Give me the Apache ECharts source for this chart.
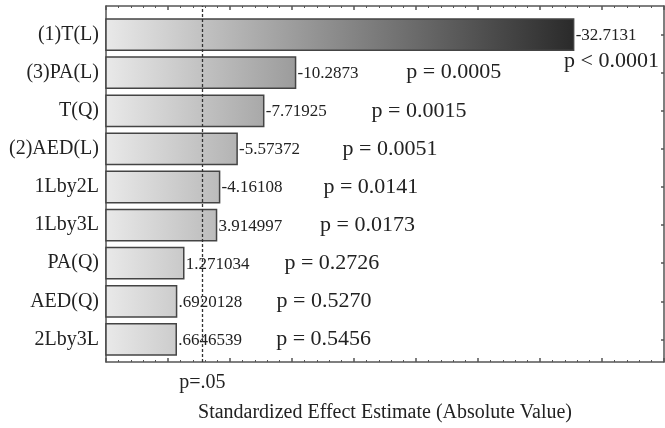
<!DOCTYPE html>
<html><head><meta charset="utf-8">
<script src="https://cdn.jsdelivr.net/npm/echarts@6/dist/echarts.min.js"></script>
<style>html,body{margin:0;padding:0;background:#fff}#c{width:665px;height:428px}</style>
</head><body><div id="c"></div>
<script>
// ---- data ----
const categories = ['(1)T(L)', '(3)PA(L)', 'T(Q)', '(2)AED(L)', '1Lby2L', '1Lby3L', 'PA(Q)', 'AED(Q)', '2Lby3L'];
const effects = [-32.7131, -10.2873, -7.71925, -5.57372, -4.16108, 3.914997, 1.271034, 0.6920128, 0.6646539];
const pLabels = ['p < 0.0001', 'p = 0.0005', 'p = 0.0015', 'p = 0.0051', 'p = 0.0141', 'p = 0.0173', 'p = 0.2726', 'p = 0.5270', 'p = 0.5456'];
const xMin = -5, xMax = 40, xInterval = 5;
const criticalT = 2.776;
const criticalLabel = 'p=.05';
const xTitle = 'Standardized Effect Estimate (Absolute Value)';

// ---- helpers ----
const SERIF = '"Liberation Serif", "Times New Roman", serif';
function fmtVal(v) { return String(v).replace(/^(-?)0\./, '$1.'); }
const mctx = document.createElement('canvas').getContext('2d');
function textWidth(t, font) { mctx.font = font; return mctx.measureText(t).width; }
const maxAbs = Math.max(...effects.map(Math.abs));
const axisColor = '#555';

const chart = echarts.init(document.getElementById('c'), null, {renderer: 'canvas'});
const valFont = '17px ' + SERIF;
const pFont = '22px ' + SERIF;

const frameLine = {show: true, onZero: false, lineStyle: {color: axisColor, width: 1.5}};

const option = {
  animation: false,
  backgroundColor: '#fff',
  grid: [
    {left: 106, right: 1, top: 6, bottom: 60, containLabel: false},
    {left: 106, right: 1, top: 15.5, bottom: 69.5, containLabel: false}
  ],
  xAxis: [
    {gridIndex: 0, type: 'value', position: 'bottom', min: xMin, max: xMax, interval: xInterval,
     axisLine: frameLine,
     axisTick: {show: true, inside: true, length: 4, lineStyle: {color: axisColor, width: 1.5}},
     minorTick: {show: true, splitNumber: 5, length: 2, lineStyle: {color: axisColor}},
     axisLabel: {show: false}, splitLine: {show: false},
     name: xTitle, nameLocation: 'middle', nameGap: 41,
     nameTextStyle: {fontFamily: SERIF, fontSize: 20, color: '#222'}},
    {gridIndex: 0, type: 'value', position: 'top', min: xMin, max: xMax, interval: xInterval,
     axisLine: frameLine,
     axisTick: {show: true, inside: true, length: 4, lineStyle: {color: axisColor, width: 1.5}},
     minorTick: {show: true, splitNumber: 5, length: 2, lineStyle: {color: axisColor}},
     axisLabel: {show: false}, splitLine: {show: false}},
    {gridIndex: 1, type: 'value', min: xMin, max: xMax, interval: xInterval, show: false}
  ],
  yAxis: [
    {gridIndex: 0, type: 'value', position: 'left', min: 0, max: 1,
     axisLine: frameLine,
     axisTick: {show: false}, axisLabel: {show: false}, splitLine: {show: false}},
    {gridIndex: 0, type: 'value', position: 'right', min: 0, max: 1,
     axisLine: frameLine,
     axisTick: {show: false}, axisLabel: {show: false}, splitLine: {show: false}},
    {gridIndex: 1, type: 'category', position: 'left', inverse: true, data: categories,
     axisLine: {show: false, onZero: false},
     axisTick: {show: true, inside: true, alignWithLabel: true, length: 3, lineStyle: {color: axisColor, width: 1.5}},
     axisLabel: {show: true, margin: 7, fontFamily: SERIF, fontSize: 20, color: '#222'},
     splitLine: {show: false}},
    {gridIndex: 1, type: 'category', position: 'right', inverse: true, data: categories,
     axisLine: {show: false, onZero: false},
     axisTick: {show: true, inside: true, alignWithLabel: true, length: 3, lineStyle: {color: axisColor, width: 1.5}},
     axisLabel: {show: false}, splitLine: {show: false}}
  ],
  series: [
    {
      type: 'custom',
      xAxisIndex: 2, yAxisIndex: 2,
      data: effects.map((e, i) => [Math.abs(e), i]),
      encode: {x: 0, y: 1},
      renderItem: function (params, api) {
        const i = params.dataIndex;
        const v = api.value(0);
        const c = api.value(1);
        const start = api.coord([xMin, c]);
        const end = api.coord([v, c]);
        const band = api.size([0, 1])[1];
        const h = band * 0.82;
        const cs = params.coordSys;
        const gEnd = api.coord([maxAbs, c])[0];
        const children = [];
        children.push({
          type: 'rect',
          shape: {x: start[0], y: end[1] - h / 2, width: end[0] - start[0], height: h},
          style: {
            fill: {type: 'linear', x: cs.x, y: 0, x2: gEnd, y2: 0, global: true,
                   colorStops: [{offset: 0, color: '#e9e9e9'}, {offset: 1, color: '#2a2a2a'}]},
            stroke: '#444', lineWidth: 1.5
          }
        });
        children.push({
          type: 'text',
          style: {text: fmtVal(effects[i]), x: end[0] + 2, y: end[1] + 1, font: valFont,
                  fill: '#222', align: 'left', verticalAlign: 'middle'}
        });
        const pw = textWidth(pLabels[i], pFont);
        let px = api.coord([v * 1.09 + 8, c])[0];
        const right = cs.x + cs.width;
        if (px + pw > right - 3) {
          children.push({
            type: 'text',
            style: {text: pLabels[i], x: right - 5, y: end[1] + 27, font: pFont,
                    fill: '#222', align: 'right', verticalAlign: 'middle'}
          });
        } else {
          children.push({
            type: 'text',
            style: {text: pLabels[i], x: px, y: end[1], font: pFont,
                    fill: '#222', align: 'left', verticalAlign: 'middle'}
          });
        }
        return {type: 'group', children: children};
      },
      z: 3
    },
    {
      type: 'line', xAxisIndex: 0, yAxisIndex: 0, data: [],
      markLine: {
        silent: true, symbol: 'none',
        lineStyle: {type: [3, 2], color: '#333', width: 1.3},
        label: {show: true, position: 'start', formatter: criticalLabel, distance: 11,
                fontFamily: SERIF, fontSize: 20, color: '#222'},
        data: [{xAxis: criticalT}]
      },
      z: 4
    }
  ]
};
chart.setOption(option);
</script>
</body></html>
